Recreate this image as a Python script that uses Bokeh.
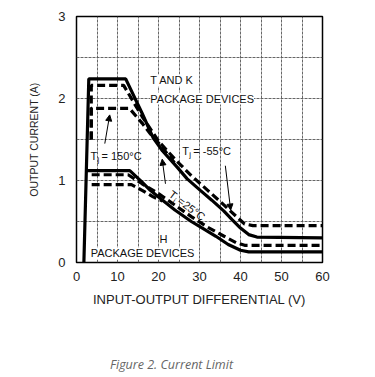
import math
from bokeh.plotting import figure
from bokeh.models import Range1d, FixedTicker, Label, Arrow, NormalHead, Div
from bokeh.layouts import column
from bokeh.embed import file_html
from bokeh.resources import INLINE

# ---------------- data ----------------
x_ticks = [0, 10, 20, 30, 40, 50, 60]
y_ticks = [0, 1, 2, 3]
x_grid = [5, 10, 15, 20, 25, 30, 35, 40, 45, 50, 55]
y_grid = [0.5, 1.0, 1.5, 2.0, 2.5]

# T and K package, Tj = 25 C (solid)
tk25_v = [1.8, 3.0, 12.0, 16.0, 18.7, 21.0, 24.6, 27.0, 30.2, 33.0, 35.9, 38.0, 40.0, 42.0, 44.0, 60.0]
tk25_i = [0.0, 2.24, 2.24, 1.82, 1.52, 1.36, 1.16, 1.02, 0.88, 0.76, 0.63, 0.52, 0.42, 0.34, 0.31, 0.30]
# T and K package, Tj = -55 C (dashed)
tkm55_v = [3.6, 3.6, 11.5, 16.0, 20.0, 24.0, 28.0, 32.0, 36.0, 39.0, 41.0, 43.0, 60.0]
tkm55_i = [1.50, 2.16, 2.16, 1.78, 1.48, 1.26, 1.06, 0.88, 0.70, 0.56, 0.47, 0.45, 0.45]
# T and K package, Tj = 150 C (dashed)
tk150_v = [3.6, 3.6, 12.9, 16.0, 18.0, 20.5, 24.0]
tk150_i = [1.50, 1.88, 1.88, 1.70, 1.57, 1.43, 1.21]

# H package, Tj = 25 C (solid)
h25_v = [2.4, 13.0, 16.0, 18.0, 20.0, 24.0, 28.0, 30.0, 34.0, 37.0, 40.0, 42.0, 60.0]
h25_i = [1.12, 1.12, 0.98, 0.88, 0.80, 0.64, 0.50, 0.44, 0.32, 0.22, 0.15, 0.13, 0.13]
# H package, Tj = -55 C (dashed)
hm55_v = [3.7, 12.6, 16.0, 20.0, 24.0, 28.0, 32.0, 36.0, 39.0, 41.0, 60.0]
hm55_i = [1.07, 1.07, 0.96, 0.84, 0.70, 0.56, 0.43, 0.32, 0.24, 0.21, 0.21]
# H package, Tj = 150 C (dashed)
h150_v = [3.7, 13.4, 16.0, 18.7, 21.0]
h150_i = [0.95, 0.95, 0.88, 0.80, 0.75]

# annotation arrows (data units): start -> end
arr150 = (6.9, 1.45, 8.1, 1.80)
arr25 = (21.7, 0.96, 20.9, 1.26)
arrm55 = (36.3, 1.18, 37.6, 0.64)

# ---------------- layout ----------------
W, H = 359, 320
BL, BT = 76, 16
FW = FH = 246
BR, BB = W - BL - FW, H - BT - FH
XMAX, YMAX = 60.0, 3.0
PX_V = FW / XMAX
PX_A = FH / YMAX

def dpx(dx, dy):
    """pixel offset (x right, y down) -> data offset"""
    return dx / PX_V, -dy / PX_A

FONT = "Liberation Sans"

p = figure(width=W, height=H, x_range=Range1d(0, XMAX), y_range=Range1d(0, YMAX),
           output_backend="svg", toolbar_location=None,
           min_border_left=BL, min_border_right=BR, min_border_top=BT, min_border_bottom=BB)

p.background_fill_color = "white"
p.border_fill_color = "white"
p.outline_line_color = "black"
p.outline_line_width = 1.5

p.xaxis.ticker = FixedTicker(ticks=x_ticks)
p.yaxis.ticker = FixedTicker(ticks=y_ticks)
p.xgrid.ticker = FixedTicker(ticks=x_grid)
p.ygrid.ticker = FixedTicker(ticks=y_grid)
for g in (p.xgrid, p.ygrid):
    g.grid_line_color = "#555555"
    g.grid_line_width = 1
    g.grid_line_dash = "3 1"
    g.grid_line_alpha = 0.9

for ax in (p.xaxis, p.yaxis):
    ax.axis_line_color = None
    ax.major_tick_line_color = None
    ax.minor_tick_line_color = None
    ax.major_label_text_font = FONT
    ax.major_label_text_font_size = "13px"
    ax.major_label_text_color = "#222222"
    ax.axis_label_text_font = FONT
    ax.axis_label_text_font_style = "normal"
    ax.axis_label_text_color = "#222222"

p.xaxis.axis_label = "INPUT-OUTPUT DIFFERENTIAL (V)"
p.xaxis.axis_label_text_font_size = "13px"
p.xaxis.major_label_standoff = 3
p.xaxis.axis_label_standoff = 8
p.yaxis.axis_label = "OUTPUT CURRENT (A)"
p.yaxis.axis_label_text_font_size = "10.5px"
p.yaxis.major_label_standoff = 5
p.yaxis.axis_label_standoff = 15

# ---------------- curves ----------------
LW = 3.2
DASH = "8 4"
p.line(tk25_v, tk25_i, line_color="black", line_width=LW)
p.line(tkm55_v, tkm55_i, line_color="black", line_width=LW, line_dash=DASH)
p.line(tk150_v, tk150_i, line_color="black", line_width=LW, line_dash=DASH)
p.line(h25_v, h25_i, line_color="black", line_width=LW)
p.line(hm55_v, hm55_i, line_color="black", line_width=LW, line_dash=DASH)
p.line(h150_v, h150_i, line_color="black", line_width=LW, line_dash=DASH)

# ---------------- labels ----------------
def lab(x, y, text, size="11px", align="left", base="middle", bg=None, angle=0.0):
    l = Label(x=x, y=y, text=text, text_font=FONT, text_font_size=size,
              text_color="#111111", text_align=align, text_baseline=base,
              angle=angle, background_fill_color=bg)
    p.add_layout(l)

lab(18.0, 2.22, "T AND K", bg="white")
lab(18.0, 2.0, "PACKAGE DEVICES", bg="white")
lab(21.2, 0.29, "H", align="center", bg="white")
lab(16.1, 0.11, "PACKAGE DEVICES", align="center", bg="white")

def tj(x, y, rest, angle=0.0):
    ca, sa = math.cos(angle), math.sin(angle)
    lab(x, y, "T", angle=angle)
    # subscript j: 7px along the text direction, 4px below baseline
    dx = 7 * ca + 4 * sa
    dy = -7 * sa + 4 * ca
    ox, oy = dpx(dx, dy)
    lab(x + ox, y + oy, "j", size="8px", angle=angle)
    dx2, dy2 = 11 * ca, -11 * sa
    ox2, oy2 = dpx(dx2, dy2)
    lab(x + ox2, y + oy2, rest, angle=angle)

tj(3.4, 1.30, " = 150°C")
tj(25.8, 1.36, " = -55°C")
tj(22.9, 0.85, "=25°C", angle=-0.646)

for (x0, y0, x1, y1) in (arr150, arr25, arrm55):
    p.add_layout(Arrow(x_start=x0, y_start=y0, x_end=x1, y_end=y1,
                       line_color="black", line_width=1,
                       end=NormalHead(size=6, fill_color="black", line_color="black")))

# caption
cap = Div(text="Figure 2. Current Limit", width=W, height=50,
          styles={"font-family": "Open Sans", "font-style": "italic", "font-size": "12.5px",
                  "color": "#666666", "padding-left": "105px", "padding-top": "31px",
                  "box-sizing": "border-box"})

layout = column(p, cap, spacing=0)
open("out.html", "w").write(file_html(layout, INLINE))
